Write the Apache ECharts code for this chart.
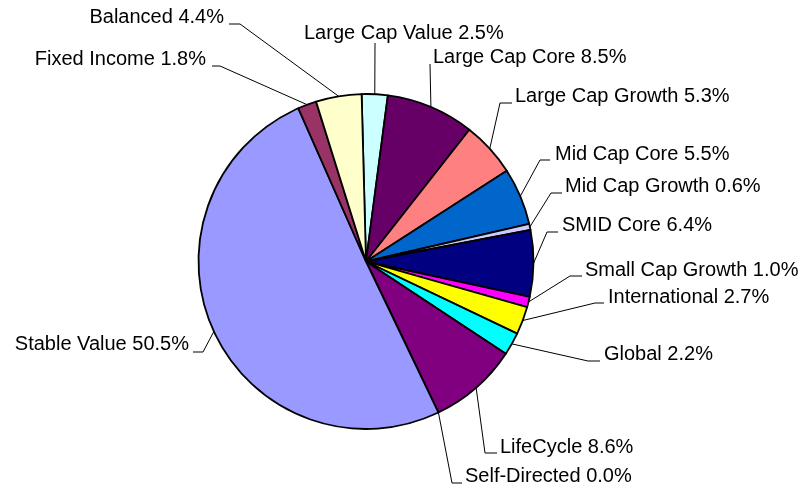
<!DOCTYPE html>
<html>
<head>
<meta charset="utf-8">
<script src="https://cdn.jsdelivr.net/npm/echarts@6/dist/echarts.min.js"></script>
<style>
  html, body { margin: 0; padding: 0; background: #ffffff; }
  #chart { width: 804px; height: 487px; }
</style>
</head>
<body>
<div id="chart"></div>
<script>
// Asset allocation by fund category (percent of total)
const categories = [
  'Large Cap Value', 'Large Cap Core', 'Large Cap Growth', 'Mid Cap Core',
  'Mid Cap Growth', 'SMID Core', 'Small Cap Growth', 'International',
  'Global', 'LifeCycle', 'Self-Directed', 'Stable Value',
  'Fixed Income', 'Balanced'
];
const shares = [2.5, 8.5, 5.3, 5.5, 0.6, 6.4, 1.0, 2.7, 2.2, 8.6, 0.0, 50.5, 1.8, 4.4];

// Slice fills, one per category
const sliceColors = [
  '#CCFFFF', '#660066', '#FF8080', '#0066CC',
  '#CCCCFF', '#000080', '#FF00FF', '#FFFF00',
  '#00FFFF', '#800080', '#800000', '#9999FF',
  '#993366', '#FFFFCC'
];

// Label placement: text anchor, alignment, leader-line elbow and end
// [textX, textY, align, elbowX, elbowY, endX, endY]
const labelSpots = [
  [304, 33, 'left', null, null, 375, 43],
  [433, 57, 'left', null, null, 430, 64],
  [515, 96, 'left', 500, 103, 512, 103],
  [555, 154, 'left', 540, 160, 550, 160],
  [565, 186, 'left', 551, 193, 562, 193],
  [562, 225, 'left', 547, 232, 558, 232],
  [585, 270, 'left', 570, 276, 582, 276],
  [608, 297, 'left', 595, 303, 604, 303],
  [604, 354, 'left', 588, 361, 600, 361],
  [500, 447, 'left', 485, 453, 497, 453],
  [465, 476, 'left', 452, 483, 462, 483],
  [189, 344, 'right', 203, 352, 193, 352],
  [206, 59, 'right', 220, 66, 212, 66],
  [224, 17, 'right', 240, 24, 229, 24]
];

const chart = echarts.init(document.getElementById('chart'), null, { renderer: 'canvas' });

chart.setOption({
  backgroundColor: '#ffffff',
  animation: false,
  series: [{
    type: 'pie',
    center: [366, 261.5],
    radius: 167.5,
    startAngle: 91.5,
    clockwise: true,
    avoidLabelOverlap: false,
    stillShowZeroSum: true,
    data: categories.map((name, i) => ({
      name: name,
      value: shares[i],
      itemStyle: { color: sliceColors[i] }
    })),
    itemStyle: { borderColor: '#000000', borderWidth: 1.8 },
    emphasis: { disabled: true },
    label: {
      show: true,
      position: 'outside',
      color: '#000000',
      fontFamily: 'Liberation Sans, Arial, sans-serif',
      fontSize: 20,
      formatter: (p) => p.name + ' ' + p.value.toFixed(1) + '%'
    },
    labelLine: {
      show: true,
      length: 20,
      length2: 10,
      lineStyle: { color: '#000000', width: 1 }
    },
    labelLayout: (params) => {
      const s = labelSpots[params.dataIndex];
      const edge = params.labelLinePoints ? params.labelLinePoints[0] : [s[5], s[6]];
      const pts = [edge];
      if (s[3] != null) pts.push([s[3], s[4]]);
      pts.push([s[5], s[6]]);
      return {
        x: s[0],
        y: s[1],
        align: s[2],
        verticalAlign: 'middle',
        labelLinePoints: pts
      };
    }
  }]
});
</script>
</body>
</html>
